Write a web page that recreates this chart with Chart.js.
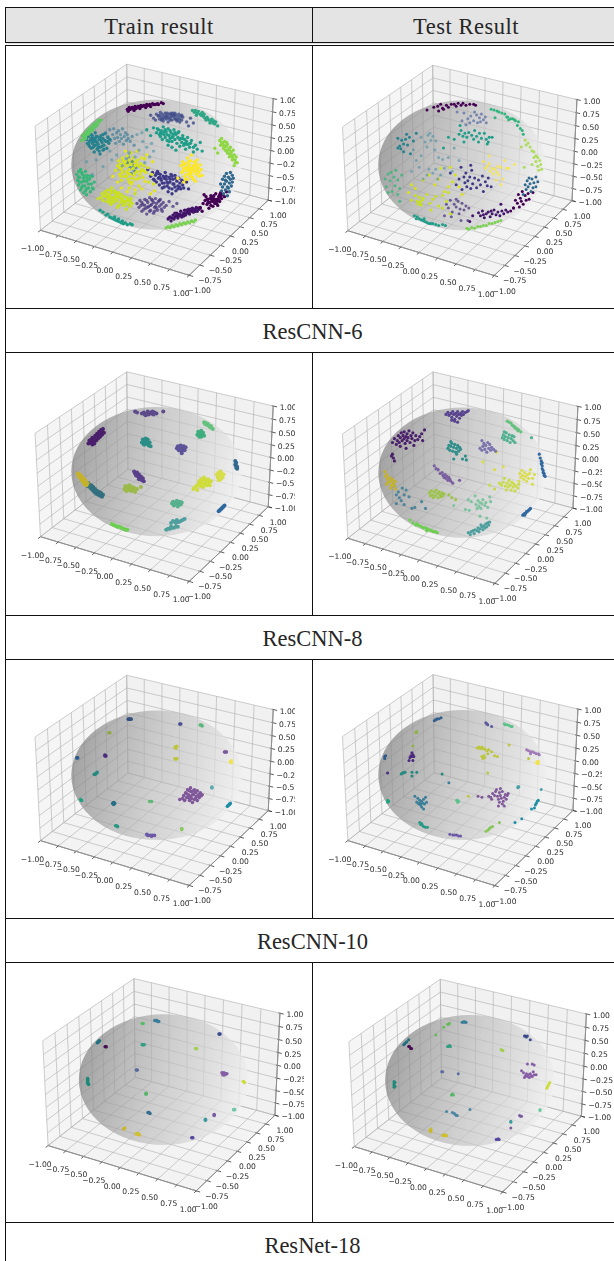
<!DOCTYPE html>
<html>
<head>
<meta charset="utf-8">
<title>Train and test result</title>
<script src="https://cdn.jsdelivr.net/npm/chart.js@4"></script>
<style>
  html, body { margin: 0; padding: 0; background: #fff; }
  body { position: relative; width: 614px; height: 1261px; overflow: hidden; }
  table { position: absolute; left: 5px; top: 7px; width: 614px; table-layout: fixed; border-collapse: collapse;
    font-family: "Liberation Serif", serif; font-size: 22.5px; color: #262626; text-align: center; }
  td, th { padding: 0; font-weight: normal; border: 1.5px solid #111; }
  th { background: #e4e4e4; border-bottom: 4px double #111; height: 34px; letter-spacing: 0.5px; }
  td.caption { height: 43px; }
  table span { position: relative; top: 2px; }
  canvas { position: absolute; filter: blur(0.55px); }
</style>
</head>
<body>
<script>
const HEADERS = ['Train result', 'Test Result'];
const MODELS = ['ResCNN-6', 'ResCNN-8', 'ResCNN-10', 'ResNet-18'];
const TICKS = [-1, -0.75, -0.5, -0.25, 0, 0.25, 0.5, 0.75, 1];

// points are x,y pairs in the view plane, origin at the sphere centre, one line per cluster
const train6 = [
  [-30,57,-28,59,-27,57,-25,59,-24,58,-22,60,-21,58,-19,60,-18,59,-16,61,-15,60,-13,61,-12,60,-10,62,-9,61,-7,62,-6,60,-4,63,-3,62,-1,62,1,63,-23,56,-17,58,-11,59,2,62,5,64,7,63,-29,55],
  [0,52,2,50,3,47,4,54,5,49,6,52,7,45,8,50,9,53,10,47,11,50,12,44,13,52,14,48,15,50,16,46,17,53,18,49,19,47,20,51,21,45,22,49,23,52,24,47,25,50,26,46,27,49,-6,51,-3,48,-1,46,31,44,35,48,38,43,33,40,6,47,12,48,16,51,20,47],
  [37,56,39,54,40,56,42,53,43,55,45,52,46,51,48,50,49,52,50,48,52,49,53,47,54,46,56,45,57,47,58,43,60,42,61,44,63,40,51,46,55,43,59,45,47,54,41,51],
  [-3,38,0,33,2,36,3,31,4,29,5,35,6,26,7,39,8,31,9,28,10,34,11,25,12,37,13,30,14,27,15,33,16,24,17,29,18,36,19,26,20,31,21,22,22,28,23,34,24,19,25,27,26,23,27,30,28,20,29,26,30,16,31,24,32,28,33,21,34,18,36,25,38,13,40,20,42,16,45,23,-6,30,-10,36,12,20,16,18,20,15,47,14],
  [-57,46,-59,44,-60,46,-61,41,-62,43,-63,39,-64,42,-65,37,-66,40,-67,35,-68,38,-69,33,-70,36,-71,31,-72,34,-73,29,-74,32,-75,27,-76,30,-77,25,-70,32,-66,36,-62,40,-73,27],
  [-72,26,-71,22,-70,29,-69,19,-68,25,-67,31,-67,17,-66,22,-65,27,-64,13,-64,20,-63,33,-62,24,-61,16,-61,29,-60,21,-59,26,-58,11,-58,18,-57,30,-56,23,-55,15,-55,27,-54,20,-53,32,-52,24,-51,17,-50,28,-49,22,-48,26,-66,25,-60,18,-63,27,-57,25],
  [-52,33,-50,29,-48,36,-47,25,-45,31,-44,37,-43,27,-42,22,-41,33,-40,28,-39,35,-38,24,-37,31,-36,27,-35,37,-34,21,-33,29,-32,33,-31,25,-30,31,-29,27,-27,24,-25,29,-23,20],
  [-28,12,-22,8,-18,15,-14,24,-10,18,-7,8,-3,14,-31,6,-35,-1,-41,10,-46,5,-55,-2,-62,5,-72,3,-66,-10,-48,14,-12,2,-5,22,-20,31,-15,33],
  [-42,-6,-40,-1,-39,4,-38,-10,-37,1,-36,-5,-35,7,-34,-2,-33,-12,-32,3,-31,-7,-30,9,-30,-1,-29,-15,-28,-5,-28,5,-27,-10,-26,0,-26,12,-25,-18,-24,-4,-24,7,-23,-11,-22,-1,-21,3,-21,-15,-20,-7,-19,5,-18,-2,-17,-10,-16,1,-15,-5,-14,-13,-13,-1,-12,6,-11,-8,-9,-3,-8,-18,-5,-10,-3,-20,-36,-16,-28,-24,-18,-22],
  [-30,2,-27,-3,-25,3,-23,-6,-29,8,-24,-1,-21,-3,-26,-9],
  [65,25,66,20,67,27,68,22,69,17,70,24,71,19,72,14,73,21,74,16,75,11,76,18,77,13,78,8,79,15,80,10,81,5,82,8,83,2,80,-1,78,5,75,15,72,19,63,12,60,17],
  [25,-1,26,-8,27,3,28,-4,29,-12,30,1,31,-6,32,7,32,-15,33,-2,34,-9,35,4,36,-4,36,10,37,-13,38,-1,39,-7,40,2,40,-17,41,-10,42,5,43,-3,44,-8,45,0,46,-5,47,-11,35,-7,30,-3,38,-5,34,0,41,-3,22,-14,28,-18],
  [-6,-12,-4,-8,-3,-15,-1,-11,0,-18,1,-7,2,-14,3,-21,4,-10,5,-16,6,-24,7,-12,8,-19,9,-8,10,-15,11,-22,12,-28,13,-13,14,-18,15,-10,16,-25,17,-15,18,-20,19,-11,20,-27,21,-17,22,-22,23,-14,24,-19,25,-25,26,-16,27,-21,28,-24,31,-18,33,-25,16,-30,12,-19,8,-14,3,-13,-9,-5],
  [66,-20,67,-27,68,-15,68,-23,69,-30,70,-12,70,-20,71,-26,72,-9,72,-17,73,-32,73,-23,74,-13,75,-19,75,-28,76,-8,76,-15,77,-22,78,-11,78,-18,79,-14,71,-16,74,-24],
  [50,-37,51,-33,52,-41,53,-36,54,-45,55,-39,56,-32,57,-37,58,-43,59,-35,60,-40,61,-30,62,-36,63,-42,64,-33,65,-38,66,-29,67,-35,68,-31,70,-33,72,-28,48,-40,45,-44,47,-48,58,-38,61,-38,64,-36,49,-31],
  [12,-56,14,-54,15,-58,17,-52,18,-56,20,-53,21,-50,22,-55,24,-51,25,-48,26,-54,28,-50,29,-47,30,-52,32,-49,33,-46,34,-51,36,-48,37,-45,38,-49,40,-46,41,-44,42,-48,44,-46,45,-45,23,-53,27,-52,31,-47,35,-46,19,-50],
  [10,-65,12,-64,14,-65,16,-63,18,-64,20,-62,22,-63,24,-61,26,-62,28,-60,30,-61,32,-59,34,-60,36,-58,38,-59,40,-57],
  [-20,-40,-18,-44,-17,-37,-15,-48,-14,-41,-12,-36,-11,-45,-10,-51,-9,-39,-8,-43,-7,-34,-6,-47,-5,-41,-4,-37,-3,-50,-2,-44,-1,-35,0,-40,1,-47,2,-38,3,-43,4,-36,5,-41,6,-48,7,-39,8,-44,10,-42,13,-38,17,-43,21,-40,-6,-42,-12,-42,-1,-43],
  [-57,-34,-56,-30,-55,-37,-53,-28,-52,-33,-51,-38,-50,-26,-49,-31,-48,-36,-47,-41,-46,-29,-45,-34,-44,-39,-43,-27,-42,-32,-41,-37,-40,-44,-39,-29,-38,-34,-37,-39,-36,-31,-35,-36,-34,-42,-33,-33,-32,-38,-31,-46,-30,-34,-29,-41,-28,-37,-27,-43,-26,-35,-25,-40,-48,-33,-44,-35,-40,-33,-36,-38,-60,-35,-46,-24,-22,-30],
  [-82,-10,-81,-16,-80,-7,-80,-21,-79,-13,-78,-5,-78,-26,-77,-18,-76,-10,-75,-29,-75,-14,-74,-22,-73,-7,-72,-17,-72,-31,-71,-11,-70,-24,-69,-15,-68,-28,-67,-20,-66,-12,-65,-25,-64,-18,-76,-22,-72,-25],
  [-58,-47,-55,-49,-52,-52,-50,-51,-48,-54,-46,-55,-44,-56,-42,-57,-40,-58,-38,-59,-36,-60,-34,-61,-32,-60,-30,-62,-27,-61,-25,-62,-43,-54,-39,-56,-35,-58],
  [-40,-18,-36,-24,-30,-28,-26,-20,-22,-26,-15,-25,-12,-17,-6,-30,-2,-27,-45,-12,-15,7,-10,10,-4,3,-32,14,-20,14],
  [1,37,6,32,9,36,14,35,17,31,22,33,27,27,31,21,24,26,19,33,11,31,4,33,16,28,29,22,35,22,38,18,13,24,8,34],
  [3,51,8,48,11,53,14,46,18,51,22,46,26,51,15,53,5,46,10,50,24,44,19,53],
  [-69,24,-65,18,-62,29,-59,14,-56,19,-53,25,-50,24,-70,21,-63,20,-66,30,-58,28,-54,16,-61,23,-55,31,-67,27,-64,24],
  [-38,-3,-34,4,-31,-12,-27,2,-22,-8,-18,-14,-29,-9,-35,-8,-24,3,-16,-7,-13,-6,-20,0,-33,1,-25,-14,-28,-18,-37,-12],
  [28,0,31,-10,33,3,35,-12,37,-3,39,3,42,-6,44,-12,30,-15,36,-9,33,-5,41,0,27,-7,38,-15],
  [-2,-16,2,-9,6,-19,10,-12,13,-24,17,-20,20,-14,24,-23,27,-17,8,-23,4,-14,14,-15,22,-25,19,-23,11,-18,16,-12,0,-9],
  [53,-39,56,-42,59,-32,62,-40,65,-31,55,-35,60,-36,63,-37,52,-36,57,-34,66,-33],
  [13,-55,16,-55,19,-54,22,-52,25,-52,28,-53,31,-50,34,-48,37,-47,40,-48,43,-45],
  [-16,-42,-13,-46,-10,-37,-7,-48,-3,-39,0,-45,3,-37,5,-46,-9,-44,-15,-39,-5,-36,-2,-48],
  [-54,-32,-50,-35,-47,-27,-45,-38,-42,-29,-39,-42,-36,-35,-33,-41,-30,-37,-27,-38,-51,-30,-43,-35,-37,-31,-48,-39,-41,-30,-34,-38],
  [-80,-13,-77,-8,-77,-24,-74,-12,-73,-27,-70,-20,-68,-12,-66,-24,-79,-18,-75,-17,-71,-14],
  [67,23,69,20,71,15,73,12,75,8,77,10,79,6,81,2,72,23]
];
const test6 = [
  [-36,57,-29,60,-25,61,-22,63,-20,59,-16,62,-14,60,-11,63,-8,63,-6,61,-4,64,-1,62,1,64,4,62,8,63,12,63,14,62,-19,58,-24,56],
  [2,54,6,48,9,51,12,46,13,55,15,52,16,44,18,49,20,53,22,47,24,50,25,44,0,46,4,42,-5,55,8,44,19,45],
  [30,58,33,57,36,56,38,55,41,54,44,53,47,50,50,48,52,48,54,47,55,46,58,45,60,38,62,36,63,32,46,50,48,47,57,41,34,49],
  [-3,32,-1,36,1,30,3,33,5,29,7,34,10,31,12,27,13,36,15,30,17,24,18,33,20,28,23,33,25,27,27,24,28,29,-2,41,2,24,26,22,31,29,-8,27,-19,18,-14,29],
  [65,26,66,21,68,23,70,19,72,15,74,14,76,10,78,8,76,4,80,5,81,1,78,-1,79,-5,82,-4,74,8,72,1,64,-2,61,19],
  [22,4,24,-3,26,-1,28,2,29,-6,31,-3,32,-9,34,-4,36,-7,37,-1,38,-10,40,-2,42,-14,35,-15,40,-20,46,-3,48,-3,44,5,54,1,28,10],
  [-62,26,-60,22,-58,27,-66,28,-64,20,-63,17,-60,14,-56,21,-57,32,-54,29,-66,18,-53,12,-50,25,-47,33],
  [-42,29,-38,24,-35,31,-32,26,-30,30,-27,25,-36,19,-33,33,-28,16,-24,8,-20,6,-34,-4,-30,-8,-27,-4,-36,-10,-25,-14,-18,-3,-22,-10,-14,8,-10,-6,-40,-14,-47,5,-52,-6,-42,10,-8,18,-3,5,-50,16,-44,-2],
  [-79,-14,-76,-9,-78,-22,-74,-16,-72,-27,-73,-7,-70,-12,-69,-21,-68,-5,-66,-30,-66,-15,-64,-24,-62,-10,-76,-28,-64,-37],
  [-52,-36,-48,-31,-46,-37,-45,-40,-44,-33,-43,-38,-41,-36,-42,-41,-40,-34,-36,-30,-33,-39,-32,-46,-30,-35,-27,-32,-24,-42,-20,-31,-16,-37,-14,-28,-12,-50,-20,-44],
  [-52,-20,-48,-24,-40,-15,-34,-10,-28,-20,-24,-14,-18,-27,-14,-22,-10,-17,-7,-10,-3,-22,-55,-28,0,-30,-22,-3,-12,-2],
  [-6,-20,-3,-14,0,-25,2,-12,3,-18,4,-8,5,-22,6,-16,8,-12,9,-24,10,-5,11,-19,13,-13,15,-23,17,-15,19,-20,21,-11,22,-27,24,-17,26,-21,27,-13,9,0,-12,-8,-1,-2,30,-22],
  [63,-30,65,-20,66,-25,67,-16,68,-22,69,-13,70,-19,72,-14,73,-23,74,-18,76,-12,78,-17,71,-27,76,-22],
  [53,-44,55,-36,57,-39,58,-30,59,-43,60,-34,61,-37,62,-27,63,-40,65,-31,66,-36,68,-29,50,-47,69,-35,73,-28],
  [17,-49,19,-52,21,-47,23,-54,25,-50,27,-48,29,-53,31,-50,33,-46,35,-51,37,-48,39,-52,41,-47,43,-50,45,-46,47,-48,22,-51,30,-47,53,-44,8,-58,11,-52,40,-40],
  [7,-66,10,-64,13,-65,16,-63,19,-63,22,-62,25,-62,28,-60,31,-60,34,-59,37,-58,40,-57,5,-65],
  [-16,-40,-14,-44,-12,-36,-10,-48,-8,-40,-6,-43,-4,-37,-2,-45,0,-39,2,-46,-3,-50,-6,-35,4,-42,7,-44,-11,-53,-18,-52,-1,-57,6,-57],
  [-49,-52,-46,-53,-44,-55,-42,-56,-40,-57,-38,-58,-36,-59,-34,-60,-32,-60,-30,-60,-27,-61,-24,-62,-20,-61,-47,-55,-39,-55,-17,-62]
];
const train8 = [
  [-15,60,-13,61,-12,59,-10,60,-9,62,-8,59,-6,61,-5,60,-3,59,-2,61,0,60,-11,58,-7,60,-4,62,-22,62,-20,61,7,62],
  [-70,29,-69,32,-68,30,-67,33,-66,28,-66,35,-65,31,-64,34,-64,29,-63,37,-62,32,-62,35,-61,39,-60,34,-60,37,-59,41,-58,36,-58,39,-57,43,-56,38,-56,41,-55,44,-54,40],
  [42,38,43,41,44,36,45,39,46,42,46,36,47,38,48,40,49,37,44,39],
  [49,51,50,49,51,50,52,48,53,49,54,47,55,46,56,47,57,45,58,44],
  [-15,30,-14,33,-13,28,-12,31,-11,34,-10,29,-9,31,-8,27,-7,30,-6,26,-12,28,-9,33],
  [21,24,22,26,23,22,24,25,25,27,26,21,27,24,28,26,29,22,30,25,26,19,24,22],
  [81,11,82,9,81,7,82,6,83,5,83,3,82,4],
  [-23,0,-22,-2,-21,-4,-20,-1,-19,-5,-18,-3,-17,-7,-16,-5,-15,-9,-14,-7,-13,-10,-18,-8],
  [62,-3,63,-6,64,-1,65,-4,66,-8,67,-2,68,-6,66,0,69,-3,64,-9],
  [39,-17,41,-15,43,-13,44,-10,45,-15,46,-8,47,-12,48,-16,49,-9,50,-13,51,-10,52,-14,53,-8,54,-11,55,-14,56,-10,42,-19,38,-18,46,-12,49,-6],
  [-81,-2,-80,-5,-79,-3,-78,-7,-77,-9,-76,-6,-75,-11,-74,-8,-74,-13,-73,-10,-72,-14,-71,-12,-78,-4],
  [-73,-13,-71,-15,-70,-12,-68,-17,-67,-14,-66,-19,-65,-16,-64,-21,-63,-18,-62,-23,-61,-20,-60,-24,-59,-21,-58,-25,-57,-22,-56,-26,-55,-24],
  [-33,-18,-32,-15,-31,-20,-30,-16,-29,-19,-28,-14,-27,-17,-26,-20,-25,-16,-24,-19,-23,-17,-22,-21,-20,-18,-16,-16],
  [16,-33,17,-31,18,-35,19,-32,20,-34,21,-30,22,-36,23,-33,24,-31,25,-34,26,-32],
  [64,-41,65,-40,66,-39,67,-38,68,-37,69,-36,70,-35],
  [15,-53,17,-51,19,-52,21,-50,23,-52,25,-51,27,-50,29,-49,20,-53],
  [10,-60,12,-59,14,-59,16,-58,18,-58,20,-57,22,-57,15,-57],
  [-46,-54,-44,-55,-42,-56,-40,-57,-38,-57,-36,-58,-34,-59,-32,-60,-30,-60]
];
const test8 = [
  [-17,60,-15,62,-14,59,-12,61,-11,57,-10,63,-9,60,-8,55,-7,61,-6,58,-5,63,-4,60,-3,56,-2,61,-1,59,0,63,1,60,3,62,5,63,-8,53,-11,54,-5,52,6,64],
  [-72,31,-70,35,-68,29,-67,33,-66,38,-65,31,-64,36,-63,41,-62,33,-61,38,-60,35,-60,42,-59,30,-58,37,-57,33,-57,40,-56,36,-55,43,-54,31,-53,38,-52,35,-51,41,-49,33,-48,38,-46,34,-44,37,-42,40,-41,33,-39,44,-64,27,-58,25,-50,28,-72,19,-71,15,-73,17,-70,12],
  [46,53,48,52,50,51,51,49,52,48,53,48,54,46,55,46,56,45,57,43,58,44,60,42],
  [41,36,42,39,43,34,44,37,45,41,46,33,47,36,48,39,49,31,50,35,51,38,52,33,53,37,54,31,43,42,71,36],
  [-15,25,-14,28,-13,23,-12,27,-11,30,-10,22,-9,26,-8,29,-7,21,-6,25,-5,28,-4,22,-3,26,-2,24,-12,32,-6,19,0,14,3,17,-9,14,4,13],
  [18,25,20,23,21,27,22,30,23,24,24,28,25,21,26,31,27,25,28,29,29,23,30,26,32,24,34,22,20,33],
  [79,19,80,15,81,12,81,9,82,7,82,4,83,2,83,0,84,-1,84,-3,85,-4,82,10],
  [-29,7,-27,4,-25,3,-23,-1,-21,0,-20,-3,-19,-5,-18,-2,-17,-6,-16,-4,-15,-8,-14,-5,-13,-7,-12,-9,-10,-11,-3,-8],
  [59,-1,60,-5,61,2,62,-3,63,-7,64,0,65,-4,66,-9,67,-2,68,-6,69,-1,70,3,58,-9,72,-6,72,-12,74,-2],
  [38,-11,40,-13,42,-10,44,-14,45,-18,46,-11,47,-15,48,-8,49,-13,50,-18,51,-10,52,-15,53,-12,54,-19,55,-14,57,-16,58,-12,43,-6,33,-17,28,-13],
  [-80,1,-79,-4,-78,-2,-77,-7,-76,-10,-75,-5,-74,-9,-73,-13,-72,-7,-71,-11,-70,-14,-69,-9,-78,-12,-74,-16,-69,-17],
  [-70,-14,-66,-20,-62,-16,-65,-26,-60,-23,-68,-23,-63,-29,-58,-18,-55,-25,-60,-33,-68,-32,-52,-37,-49,-36,-42,-30,-38,-37],
  [-34,-21,-33,-24,-32,-19,-31,-23,-30,-26,-29,-20,-28,-24,-27,-18,-26,-22,-25,-26,-24,-20,-23,-23,-22,-25,-21,-21,-20,-24,-19,-22,-14,-23,-11,-26,-7,-28],
  [14,-33,16,-29,17,-35,18,-31,19,-37,20,-32,21,-28,23,-34,24,-31,26,-36,15,-37,29,-30,28,-25,7,-39,3,-38,9,-30,6,-28,13,-24,18,-45,25,-47,-9,-34],
  [62,-44,63,-43,64,-42,65,-42,66,-40,67,-40,68,-39,69,-38,70,-37,64,-44],
  [6,-62,8,-64,9,-61,11,-60,12,-63,13,-59,15,-60,16,-57,17,-61,18,-58,20,-56,21,-59,22,-55,23,-57,24,-53,25,-56,26,-52,27,-54,28,-51,19,-54],
  [-54,-49,-51,-52,-48,-54,-46,-54,-44,-55,-42,-56,-40,-57,-38,-57,-36,-58,-34,-59,-32,-60,-30,-61,-28,-61,-26,-62,-47,-53,-37,-60],
  [21,11,33,3,42,6,35,21]
];
const train10 = [
  [-29,58,-28,58,-27,58,-26,58],
  [24,53,25,53],
  [45,52,46,52,47,51],
  [-48,44,-49,44],
  [-82,18,-81,18],
  [-53,20,-52,20,-53,21],
  [19,29,20,29,21,30,20,28],
  [19,17,20,17,21,17],
  [70,24,71,24,72,24],
  [76,14,77,13,77,15],
  [-63,1,-62,2,-61,3,-64,1],
  [57,-12,57,-13],
  [-78,-25,-77,-26],
  [-44,-28,-43,-29,-44,-30,-45,-29],
  [-7,-27,-6,-27,-5,-27],
  [24,-25,27,-24,28,-21,29,-26,30,-18,31,-23,32,-15,33,-20,34,-26,35,-13,35,-22,36,-17,37,-28,38,-20,39,-15,39,-25,40,-18,41,-22,42,-16,42,-26,43,-20,44,-23,45,-18,46,-21,47,-20,36,-24,33,-23,31,-19,38,-16,34,-16,40,-24,37,-20],
  [73,-32,74,-31,75,-30,76,-29],
  [-42,-52,-41,-52,-40,-53],
  [26,-55,26,-56],
  [-10,-61,-8,-62,-6,-62,-4,-62,-2,-62,-9,-62,-5,-63]
];
const test10 = [
  [-29,56,-27,57,-26,58,-24,58,-22,59,-28,57],
  [24,54,25,53,26,52,30,50],
  [43,53,44,52,46,52,48,51,50,50,51,50],
  [-48,44,-47,44,-47,45,-51,30],
  [-80,17,-80,19,-79,20],
  [-54,18,-53,20,-52,19,-51,21,-50,19,-52,23,-55,15,-51,15,-77,2],
  [-63,1,-62,2,-61,2,-60,3,-59,3,-52,3,-47,3,-52,-1,-21,1],
  [15,28,17,29,18,27,19,28,20,29,21,27,23,27,25,25,27,26,20,19,22,20,23,18,21,17,26,22,30,24,33,20,36,19,48,31,26,2,68,17,6,-22],
  [66,26,68,25,70,24,72,24,74,23,76,22,78,22,79,21,70,22],
  [76,13,77,14,78,12,77,12,78,14],
  [57,-12,58,-12,57,-13,81,-15],
  [-49,-22,-47,-28,-46,-24,-45,-30,-44,-26,-44,-29,-43,-31,-42,-27,-42,-33,-41,-29,-40,-25,-40,-35,-39,-30,-38,-23,-37,-28,-14,-8],
  [-77,-26,-76,-27,-77,-28],
  [-6,-26,-5,-26,-4,-27,-5,-28],
  [16,-22,20,-23,27,-22,29,-23,30,-25,31,-19,33,-21,35,-15,36,-22,37,-25,38,-18,38,-28,39,-21,40,-24,41,-17,41,-30,42,-27,43,-23,44,-20,45,-25,46,-21,37,-32,34,-17,39,-14,43,-32,47,-19],
  [74,-34,75,-31,76,-29,77,-27,78,-26,71,-35,61,-45,54,-49],
  [-44,-49,-43,-51,-41,-52,-40,-53,-38,-54,-36,-54,-42,-50],
  [24,-58,26,-57,27,-56,28,-55,29,-54,31,-53,38,-49],
  [-13,-61,-10,-62,-8,-62,-6,-62,-4,-63,-2,-63]
];
const train18 = [
  [-9,61,-8,61,-7,61,-6,60,-5,60],
  [-22,58,-21,58],
  [57,47,58,47],
  [33,32,34,32],
  [-68,38,-67,39,-66,40],
  [-60,34,-59,34],
  [-22,36,-21,36,-20,36],
  [-28,10,-27,10],
  [60,7,61,6,62,7,63,6,64,6,61,5,63,5,65,6,62,5],
  [82,-2,83,-3],
  [-78,1,-78,-1,-78,-3,-77,-5,-78,-4,-78,0],
  [-18,-14,-18,-15],
  [-16,-34,-15,-34,-14,-35],
  [72,-31,73,-31],
  [52,-37,52,-36],
  [43,-41,43,-42],
  [29,-60,30,-60],
  [-40,-50,-41,-51],
  [-28,-56,-27,-56,-25,-57,-26,-56]
];
const test18 = [
  [-8,60,-7,60,-6,61,-5,60,-4,60],
  [-23,58,-22,58,-21,59,-27,55,-35,47],
  [56,46,57,46,58,45,59,46,62,42],
  [32,32,33,31,34,31],
  [-67,38,-66,39,-65,40,-68,37,-63,42],
  [-61,33,-60,33,-62,35,-63,35],
  [-23,35,-22,35,-21,36,-20,35],
  [-29,9,-28,9,-12,7],
  [55,8,57,5,58,7,59,4,60,6,61,3,62,7,63,5,64,4,66,6,53,10,68,6,59,17,64,17,66,16,65,9,56,3],
  [82,-2,81,-4,80,-6,79,-8],
  [-78,-1,-78,-3,-78,-5,-77,-6,-77,-2,-78,-7],
  [-19,-15,-18,-14,-17,-15],
  [-18,-33,-16,-34,-15,-35,-14,-36,-13,-36,-24,-32,0,-30],
  [72,-31,72,-30],
  [52,-37,51,-36,53,-37,42,-49],
  [42,-42,42,-43],
  [27,-61,28,-61,30,-61,29,-60],
  [-41,-51,-40,-50,-41,-52,-40,-53],
  [-28,-57,-26,-57,-25,-56,-27,-56,-24,-57]
];

// cluster colours, same order as the point lists above
const train6Colors = ['#440154','#3e4c8acc','#2fa686','#1f9e89','#5ec962','#26828e','#3f7f9aaa','#4f93a599','#d8e219','#2a788eaa','#8fd744','#fde725','#3e3a88','#31688e','#440154','#42146a','#7ad151','#46327ebb','#c8e020','#35b779','#1f9e89','#e5e31f','#1f9e89','#3e4c8acc','#26828e','#d8e219','#fde725','#3e3a88','#440154','#42146a','#46327ebb','#c8e020','#35b779','#8fd744'];
const test6Colors = ['#440154','#5a6ea5bb','#2fb47c','#1f9e89','#a0da39cc','#fde725aa','#26828e','#4f8fa599','#35b779cc','#c8e020','#d8e219','#3e3a88','#31688e','#440154','#42146a','#7ad151','#46327ebb','#1f9e89'];
const train8Colors = ['#5e4b8b','#4a1f6c','#3fae7f','#66c17f','#2a8f87','#5c5399','#31688e','#5a3f8c','#d6dd4a','#cfdc3c','#c4b32a','#336f7f','#9cba4a','#57b08f','#2f68a0','#4f9f9f','#4fa09a','#6ccf4f'];
const test8Colors = ['#58438f','#4a1f6c','#66c17f','#4fb18f','#2f8f8a','#7a73ad','#3268a0','#7a5fa0','#d9dd4f','#c9db4a','#c4b32a','#4f8599','#9cc44a','#7fc4a0','#3268a0','#4f9f9f','#6ccf4f','#d9dd4f'];
const train10Colors = ['#35507f','#4a4f94','#5cb87c','#93a844','#2d5a8c','#4b2a7f','#bcc63f','#bcc63f','#7a5a9d','#f1e34f','#268a80','#5ca8ac','#20a27f','#2a6f8a','#62b876','#80589a','#1f8fa5','#2a9a86','#88c75e','#6c59a8'];
const test10Colors = ['#35608c','#5a5aa0','#5cc28a','#8fb44a','#2d5a8c','#4b2a7f','#268a80','#bcc63f','#a07ab8','#f1e34f','#4aa0a5','#3a7f99','#20a27f','#5cc28a','#80589a','#1f8fa5','#2a9a86','#88c75e','#6c59a8'];
const train18Colors = ['#3a7f99','#5cbb6a','#3a4b8c','#a0cf52','#206f82','#450d54','#2f9f80','#5a6a9f','#865ea6','#cddc3a','#1f8a7a','#55b569','#35708f','#6dc8a4','#7a5aa0','#3e9aa0','#5548a0','#c8b82e','#d0bf2c'];
const test18Colors = ['#3a7f99','#6bb95e','#3a4b8c','#a0cf52','#206f82','#450d54','#2f9f80','#5a6a9f','#865ea6','#cddc3a','#1f8a7a','#55b569','#4c88a5','#6dc8a4','#7a5aa0','#3e9aa0','#5548a0','#c8b82e','#d0bf2c'];

// where each picture sits on the page, cx/cy = sphere centre, sx/sy = projection scale
const PANELS = [
  {pts: train6, colors: train6Colors, left: 8, top: 46, w: 287, h: 261, cx: 156.6, cy: 164.3, sx: 1473, sy: 1369, r: 1.7},
  {pts: test6, colors: test6Colors, left: 314, top: 46, w: 288, h: 261, cx: 462.1, cy: 165, sx: 1450, sy: 1364, r: 1.5},
  {pts: train8, colors: train8Colors, left: 8, top: 353, w: 287, h: 261, cx: 156.6, cy: 471.2, sx: 1473, sy: 1359, r: 2},
  {pts: test8, colors: test8Colors, left: 314, top: 353, w: 288, h: 261, cx: 462.6, cy: 472.2, sx: 1456, sy: 1372, r: 1.6},
  {pts: train10, colors: train10Colors, left: 8, top: 660, w: 287, h: 257, cx: 156.6, cy: 774.9, sx: 1473, sy: 1364, r: 1.8},
  {pts: test10, colors: test10Colors, left: 314, top: 660, w: 288, h: 257, cx: 462.6, cy: 774.6, sx: 1456, sy: 1369, r: 1.5},
  {pts: train18, colors: train18Colors, left: 8, top: 964, w: 296, h: 258, cx: 163.8, cy: 1079.2, sx: 1466, sy: 1377, r: 1.8},
  {pts: test18, colors: test18Colors, left: 314, top: 964, w: 300, h: 258, cx: 470.1, cy: 1080.1, sx: 1467, sy: 1380, r: 1.5}
];

// page skeleton
function buildTable() {
  const table = document.createElement('table');
  let html = '<colgroup><col style="width:307px"><col style="width:307px"></colgroup>';
  html += '<tr>' + HEADERS.map(h => '<th><span>' + h + '</span></th>').join('') + '</tr>';
  const rowHeights = [264, 263, 259, 260];
  MODELS.forEach((name, i) => {
    html += '<tr style="height:' + rowHeights[i] + 'px"><td></td><td></td></tr>';
    html += '<tr><td class="caption" colspan="2"><span>' + name + '</span></td></tr>';
  });
  table.innerHTML = html;
  document.body.appendChild(table);
}

// same view as a matplotlib 3d axes, elev 30 azim -60
function project(x, y, z, panel) {
  const a = 0.595, h = 0.447, dist = 10;
  const U = a * (0.866 * x + 0.5 * y);
  const V = a * (-0.25 * x + 0.433 * y) + 0.866 * h * z;
  const N = a * (0.433 * x - 0.75 * y) + 0.5 * h * z;
  const d = dist - N;
  return {x: U / d * panel.sx, y: V / d * panel.sy};
}

function lineSet(p1, p2, color, width) {
  return {data: [p1, p2], showLine: true, pointRadius: 0, borderColor: color, borderWidth: width, order: 50};
}

function frameLines(panel) {
  const out = [];
  const grid = 'rgba(176,176,176,0.62)';
  const p = (x, y, z) => project(x, y, z, panel);
  TICKS.forEach(t => {
    out.push(lineSet(p(-1, t, -1), p(-1, t, 1), grid, 1));
    out.push(lineSet(p(-1, -1, t), p(-1, 1, t), grid, 1));
    out.push(lineSet(p(t, 1, -1), p(t, 1, 1), grid, 1));
    out.push(lineSet(p(-1, 1, t), p(1, 1, t), grid, 1));
    out.push(lineSet(p(t, -1, -1), p(t, 1, -1), grid, 1));
    out.push(lineSet(p(-1, t, -1), p(1, t, -1), grid, 1));
  });
  const dark = '#333';
  out.push(lineSet(p(-1, -1, -1), p(1, -1, -1), dark, 0.8));
  out.push(lineSet(p(1, -1, -1), p(1, 1, -1), dark, 0.8));
  out.push(lineSet(p(1, 1, -1), p(1, 1, 1), dark, 0.8));
  TICKS.forEach(t => {
    out.push(lineSet(p(t, -0.98, -1), p(t, -1.05, -1), dark, 0.8));
    out.push(lineSet(p(0.98, t, -1), p(1.05, t, -1), dark, 0.8));
    out.push(lineSet(p(0.98, 1, t), p(1.05, 1, t), dark, 0.8));
  });
  return out;
}

function toPoints(flat) {
  const pts = [];
  for (let i = 0; i < flat.length; i += 2) pts.push({x: flat[i], y: flat[i + 1]});
  return pts;
}

function tickText(t) {
  return (t < 0 ? '\u2212' : '') + Math.abs(t).toFixed(2);
}

const sphereFrame = {
  id: 'sphereFrame',
  beforeDatasetsDraw(chart, args, opts) {
    const ctx = chart.ctx, panel = opts.panel;
    const sx = chart.scales.x, sy = chart.scales.y;
    const poly = (corners, fill) => {
      ctx.beginPath();
      corners.forEach((c, i) => {
        const v = project(c[0], c[1], c[2], panel);
        const px = sx.getPixelForValue(v.x), py = sy.getPixelForValue(v.y);
        if (i === 0) ctx.moveTo(px, py); else ctx.lineTo(px, py);
      });
      ctx.closePath();
      ctx.fillStyle = fill;
      ctx.fill();
    };
    poly([[-1, -1, -1], [-1, 1, -1], [-1, 1, 1], [-1, -1, 1]], 'rgba(242,242,242,0.8)');
    poly([[-1, 1, -1], [1, 1, -1], [1, 1, 1], [-1, 1, 1]], 'rgba(230,230,230,0.55)');
    poly([[-1, -1, -1], [1, -1, -1], [1, 1, -1], [-1, 1, -1]], 'rgba(236,236,236,0.62)');
    chart.$sphereDone = false;
  },
  beforeDatasetDraw(chart, args, opts) {
    if (chart.$sphereDone || !chart.data.datasets[args.index].isCluster) return;
    chart.$sphereDone = true;
    const ctx = chart.ctx, panel = opts.panel;
    const cx = chart.scales.x.getPixelForValue(0), cy = chart.scales.y.getPixelForValue(0);
    const rx = 0.0578 * panel.sx, ry = 0.0475 * panel.sy;
    const g = ctx.createLinearGradient(cx - rx, cy - ry * 0.35, cx + rx, cy + ry * 0.35);
    g.addColorStop(0, 'rgba(128,128,128,0.72)');
    g.addColorStop(0.5, 'rgba(186,186,186,0.62)');
    g.addColorStop(1, 'rgba(243,243,243,0.72)');
    ctx.save();
    ctx.beginPath();
    ctx.ellipse(cx, cy, rx, ry, 0, 0, Math.PI * 2);
    ctx.fillStyle = g;
    ctx.fill();
    ctx.restore();
  },
  afterDatasetsDraw(chart, args, opts) {
    const ctx = chart.ctx, panel = opts.panel;
    const sx = chart.scales.x, sy = chart.scales.y;
    ctx.save();
    ctx.font = '7.6px "DejaVu Sans"';
    ctx.fillStyle = '#2b2b2b';
    ctx.textBaseline = 'middle';
    const put = (v, dx, dy, text, align) => {
      ctx.textAlign = align;
      ctx.fillText(text, sx.getPixelForValue(v.x) + dx, sy.getPixelForValue(v.y) + dy);
    };
    TICKS.forEach(t => {
      put(project(t, -1, -1, panel), -8, 19, tickText(t), 'center');
      put(project(1, t, -1, panel), 10, 16, tickText(t), 'center');
      put(project(1, 1, t, panel), 6.5, 2, tickText(t), 'left');
    });
    ctx.restore();
  }
};

function buildChart(panel) {
  const canvas = document.createElement('canvas');
  canvas.width = panel.w;
  canvas.height = panel.h;
  canvas.style.left = panel.left + 'px';
  canvas.style.top = panel.top + 'px';
  canvas.style.width = panel.w + 'px';
  canvas.style.height = panel.h + 'px';
  document.body.appendChild(canvas);

  const clusters = panel.pts.map((flat, i) => ({
    isCluster: true,
    data: toPoints(flat),
    pointRadius: panel.r,
    pointBorderWidth: 0,
    backgroundColor: panel.colors[i],
    order: 1
  }));

  new Chart(canvas, {
    type: 'scatter',
    data: {datasets: frameLines(panel).concat(clusters)},
    options: {
      responsive: false,
      animation: false,
      events: [],
      layout: {padding: 0},
      plugins: {legend: {display: false}, tooltip: {enabled: false}, sphereFrame: {panel: panel}},
      scales: {
        x: {display: false, min: panel.left - panel.cx, max: panel.left + panel.w - panel.cx},
        y: {display: false, min: panel.cy - panel.top - panel.h, max: panel.cy - panel.top}
      }
    },
    plugins: [sphereFrame]
  });
}

buildTable();
PANELS.forEach(buildChart);
</script>
</body>
</html>
